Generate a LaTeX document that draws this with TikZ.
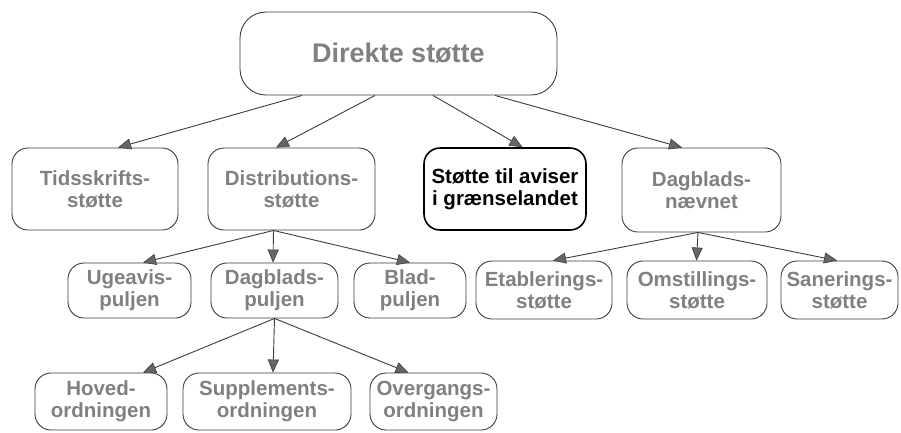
\documentclass[tikz,border=0pt]{standalone}
\usepackage{fontspec}
\setmainfont{Liberation Sans}
\usepackage{tikz}
\usepackage{xcolor}
\usetikzlibrary{
    arrows.meta,
    calc,
    positioning
}
\definecolor{boxtext}{RGB}{128,128,128}
\definecolor{boxline}{RGB}{60,60,60}

\begin{document}
\begin{tikzpicture}[x=1pt, y=-1pt,
                    supportbox/.style={draw=boxline, line width=0.9pt, rounded corners=16pt,
                        text=boxtext, font=\bfseries\fontsize{20.5}{22}\selectfont,
                        align=center, inner sep=0pt},
                    boldbox/.style={supportbox, draw=black, line width=1.6pt, text=black},
                    conn/.style={draw=boxline, line width=0.9pt,
                        >={Triangle[length=13pt, width=11pt, fill=gray!80!black, line width=0.6pt]}}]
                                \useasboundingbox (0, 0) rectangle (901, 432);
                                % top
                                \node[supportbox, rounded corners=26pt, minimum width=317pt, minimum height=83pt,
                                      font=\bfseries\fontsize{27}{30}\selectfont] (direkte) at (398.5, 53.5) {Direkte støtte};
                                % second row
                                \node[supportbox, minimum width=166pt, minimum height=82pt] (tidsskrift) at (95, 189) {Tidsskrifts-\\støtte};
                                \node[supportbox, minimum width=167pt, minimum height=82pt] (distribution) at (291.5, 189) {Distributions-\\støtte};
                                \node[boldbox, minimum width=162pt, minimum height=82pt] (graense) at (505, 189) {Støtte til aviser\\i grænselandet};
                                \node[supportbox, minimum width=159pt, minimum height=84pt] (naevnet) at (701.5, 190) {Dagblads-\\nævnet};
                                % third row
                                \node[supportbox, minimum width=123pt, minimum height=55pt] (ugeavis) at (129.5, 290.5) {Ugeavis-\\puljen};
                                \node[supportbox, minimum width=127pt, minimum height=55pt] (dagpuljen) at (274.5, 290.5) {Dagblads-\\puljen};
                                \node[supportbox, minimum width=112pt, minimum height=55pt] (bladpuljen) at (410, 290.5) {Blad-\\puljen};
                                \node[supportbox, minimum width=136pt, minimum height=58pt] (etablering) at (544, 290) {Etablerings-\\støtte};
                                \node[supportbox, minimum width=140pt, minimum height=58pt] (omstilling) at (697, 290) {Omstillings-\\støtte};
                                \node[supportbox, minimum width=117pt, minimum height=58pt] (sanering) at (839.5, 290) {Sanerings-\\støtte};
                                % fourth row
                                \node[supportbox, minimum width=132pt, minimum height=57pt] (hoved) at (101, 401.5) {Hoved-\\ordningen};
                                \node[supportbox, minimum width=168pt, minimum height=57pt] (supplement) at (267, 401.5) {Supplements-\\ordningen};
                                \node[supportbox, minimum width=127pt, minimum height=57pt] (overgang) at (433.5, 401.5) {Overgangs-\\ordningen};
                                \draw[conn]
                                ([xshift=-96.5pt]direkte.south) edge[->] ([xshift=23pt]tidsskrift.north)
                                ([xshift=-23.5pt]direkte.south) edge[->] ([xshift=-15.5pt]distribution.north)
                                ([xshift=34.5pt]direkte.south) edge[->] ([xshift=17.5pt]graense.north)
                                ([xshift=96.5pt]direkte.south) edge[->] ([xshift=-19.5pt]naevnet.north);
                                \draw[conn]
                                ([xshift=-18pt]distribution.south) edge[->] ([xshift=13.5pt]ugeavis.north)
                                ([xshift=-18pt]distribution.south) edge[->] ([xshift=-1.5pt]dagpuljen.north)
                                ([xshift=-18pt]distribution.south) edge[->] (bladpuljen.north);
                                \draw[conn]
                                (dagpuljen.south) edge[->] ([xshift=42pt]hoved.north)
                                (dagpuljen.south) edge[->] ([xshift=6pt]supplement.north)
                                (dagpuljen.south) edge[->] ([xshift=-25pt]overgang.north);
                                \draw[conn]
                                ([xshift=-3.5pt]naevnet.south) edge[->] ([xshift=9pt]etablering.north)
                                ([xshift=-3.5pt]naevnet.south) edge[->] ([xshift=-0.5pt]omstilling.north)
                                ([xshift=-3.5pt]naevnet.south) edge[->] ([xshift=-2.5pt]sanering.north);
                            \end{tikzpicture}
\end{document}
